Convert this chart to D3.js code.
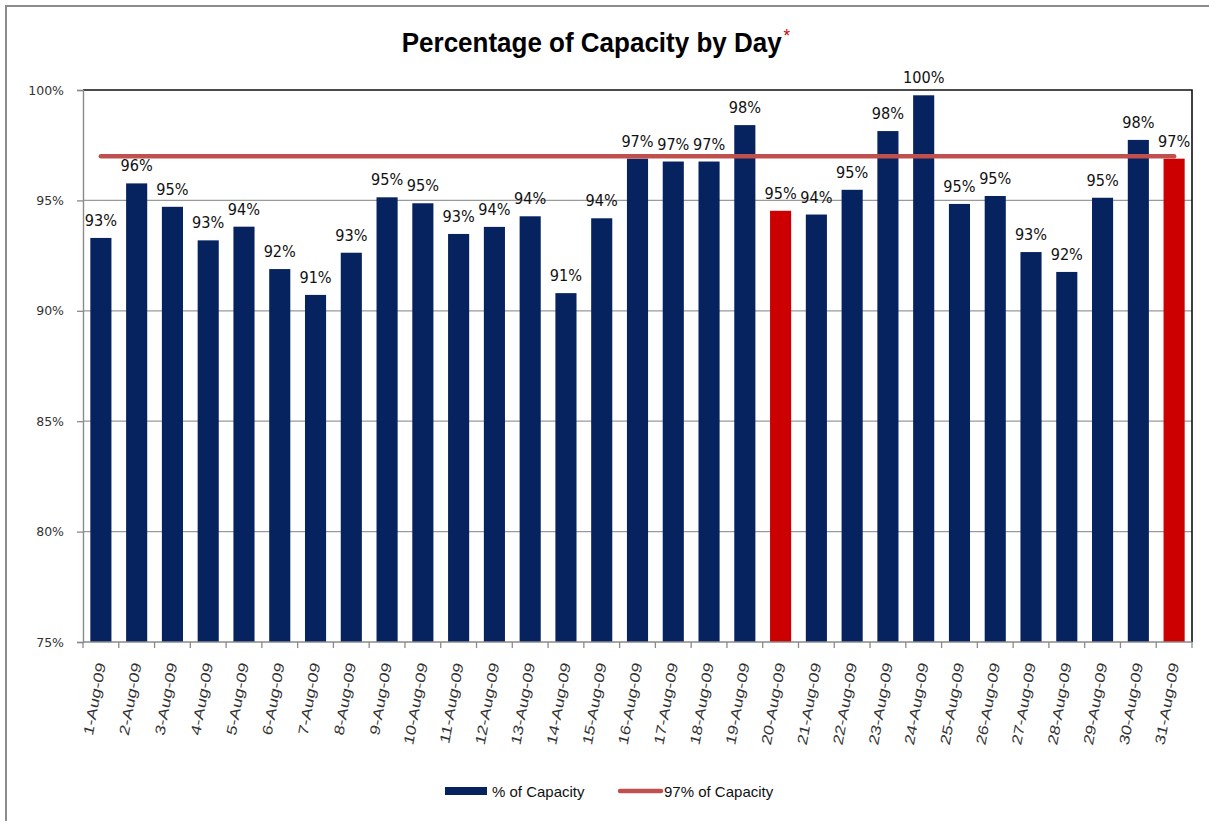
<!DOCTYPE html>
<html>
<head>
<meta charset="utf-8">
<script src="https://cdn.jsdelivr.net/npm/d3@7"></script>
<style>
  html, body { margin: 0; padding: 0; background: #fff; }
  svg { display: block; font-family: "Liberation Sans", Arial, sans-serif; }
</style>
</head>
<body>
<div id="chart"></div>
<script>
// chart data
const days = [
  '1-Aug-09', '2-Aug-09', '3-Aug-09', '4-Aug-09', '5-Aug-09', '6-Aug-09', '7-Aug-09', '8-Aug-09',
  '9-Aug-09', '10-Aug-09', '11-Aug-09', '12-Aug-09', '13-Aug-09', '14-Aug-09', '15-Aug-09', '16-Aug-09',
  '17-Aug-09', '18-Aug-09', '19-Aug-09', '20-Aug-09', '21-Aug-09', '22-Aug-09', '23-Aug-09', '24-Aug-09',
  '25-Aug-09', '26-Aug-09', '27-Aug-09', '28-Aug-09', '29-Aug-09', '30-Aug-09', '31-Aug-09'
];
const capacity = [
  93.3, 95.77, 94.71, 93.19, 93.81, 91.89, 90.72, 92.63,
  95.14, 94.87, 93.48, 93.8, 94.28, 90.8, 94.19, 96.89,
  96.76, 96.76, 98.41, 94.53, 94.36, 95.48, 98.14, 99.76,
  94.84, 95.2, 92.66, 91.76, 95.12, 97.74, 96.89
];
const highlightDays = ['20-Aug-09', '31-Aug-09'];
const targetLevel = 97;
const yTicks = [75, 80, 85, 90, 95, 100];
const seriesNames = ['% of Capacity', '97% of Capacity'];

const width = 1209, height = 821;
const plot = { left: 83, right: 1192, top: 90, bottom: 642 };

const navy = '#06225f';
const red = '#cc0000';
const lineRed = '#c0504d';

const svg = d3.select('#chart')
  .append('svg')
  .attr('width', width)
  .attr('height', height);

// outer frame (runs off the right and bottom)
svg.append('rect')
  .attr('x', 6).attr('y', 6)
  .attr('width', 1220).attr('height', 830)
  .attr('fill', 'none')
  .attr('stroke', '#8c8c8c')
  .attr('stroke-width', 2);

// title
const title = svg.append('text')
  .attr('transform', 'translate(596,52) scale(1,1.08)')
  .attr('text-anchor', 'middle')
  .attr('font-size', 26)
  .attr('font-weight', 'bold')
  .attr('fill', '#000');
title.append('tspan').text('Percentage of Capacity by Day');
title.append('tspan')
  .attr('fill', red)
  .attr('font-size', 17)
  .attr('font-weight', 'normal')
  .attr('dx', 2)
  .attr('dy', -9)
  .text('*');

// scales
const x = d3.scaleBand()
  .domain(days)
  .range([plot.left, plot.right])
  .paddingInner(0.41)
  .paddingOuter(0.205);

const y = d3.scaleLinear()
  .domain([75, 100])
  .range([plot.bottom, plot.top]);

const step = x.step();

// gridlines
svg.append('g')
  .selectAll('line')
  .data(yTicks.filter(t => t > 75 && t < 100))
  .join('line')
  .attr('x1', plot.left).attr('x2', plot.right)
  .attr('y1', d => y(d)).attr('y2', d => y(d))
  .attr('stroke', '#9a9a9a')
  .attr('stroke-width', 1.3);

// plot border top and right
svg.append('path')
  .attr('d', `M${plot.left},${y(100)}H${plot.right}V${plot.bottom}`)
  .attr('fill', 'none')
  .attr('stroke', '#111')
  .attr('stroke-width', 1.6);

// y axis
const yAxis = svg.append('g')
  .attr('transform', `translate(${plot.left},0)`)
  .call(d3.axisLeft(y).tickValues(yTicks).tickFormat(d => d + '%').tickSize(6).tickPadding(13));
yAxis.select('.domain').attr('stroke', '#8a8a8a').attr('stroke-width', 1.4);
yAxis.selectAll('.tick line').attr('stroke', '#8a8a8a').attr('stroke-width', 1.3);
yAxis.selectAll('.tick text')
  .attr('font-family', '"DejaVu Sans", Verdana, sans-serif')
  .attr('font-size', 12.5)
  .attr('fill', '#333');

// bars
svg.append('g')
  .selectAll('rect')
  .data(days)
  .join('rect')
  .attr('x', d => x(d))
  .attr('y', (d, i) => y(capacity[i]))
  .attr('width', x.bandwidth())
  .attr('height', (d, i) => y(75) - y(capacity[i]))
  .attr('fill', d => highlightDays.includes(d) ? red : navy);

// x axis line and ticks at band boundaries
svg.append('line')
  .attr('x1', plot.left).attr('x2', plot.right)
  .attr('y1', plot.bottom).attr('y2', plot.bottom)
  .attr('stroke', '#8a8a8a')
  .attr('stroke-width', 1.4);

svg.append('g')
  .selectAll('line')
  .data(days.concat(['end']))
  .join('line')
  .attr('x1', (d, i) => i < days.length ? x(d) - step * x.paddingInner() / 2 : plot.right)
  .attr('x2', (d, i) => i < days.length ? x(d) - step * x.paddingInner() / 2 : plot.right)
  .attr('y1', plot.bottom)
  .attr('y2', plot.bottom + 6)
  .attr('stroke', '#8a8a8a')
  .attr('stroke-width', 1.3);

// x labels - stretched vertically after rotation, like the source image
svg.append('g')
  .selectAll('text')
  .data(days)
  .join('text')
  .attr('transform', d => `translate(${x(d) + x.bandwidth() / 2},${plot.bottom + 21}) scale(1,1.28) rotate(-77)`)
  .attr('text-anchor', 'end')
  .attr('dy', '0.35em')
  .attr('font-size', 14)
  .attr('fill', '#333')
  .text(d => d);

// 97% line
const line = d3.line()
  .x(d => x(d) + x.bandwidth() / 2)
  .y(() => y(targetLevel));
svg.append('path')
  .datum([days[0], days[days.length - 1]])
  .attr('d', line)
  .attr('fill', 'none')
  .attr('stroke', lineRed)
  .attr('stroke-width', 4.5)
  .attr('stroke-linecap', 'round');

// data labels
svg.append('g')
  .selectAll('text')
  .data(days)
  .join('text')
  .attr('transform', (d, i) => `translate(${x(d) + x.bandwidth() / 2},${y(capacity[i]) - 12}) scale(1,1.1)`)
  .attr('text-anchor', 'middle')
  .attr('font-family', '"DejaVu Sans", Verdana, sans-serif')
  .attr('font-size', 14.5)
  .attr('fill', '#111')
  .text((d, i) => Math.round(capacity[i]) + '%');

// legend
const legend = svg.append('g');
legend.append('rect')
  .attr('x', 445).attr('y', 787)
  .attr('width', 42).attr('height', 8)
  .attr('fill', navy);
legend.append('text')
  .attr('x', 492).attr('y', 797)
  .attr('font-size', 15)
  .attr('fill', '#111')
  .text(seriesNames[0]);
legend.append('line')
  .attr('x1', 620).attr('x2', 661)
  .attr('y1', 791).attr('y2', 791)
  .attr('stroke', lineRed)
  .attr('stroke-width', 4.5)
  .attr('stroke-linecap', 'round');
legend.append('text')
  .attr('x', 664).attr('y', 797)
  .attr('font-size', 15)
  .attr('fill', '#111')
  .text(seriesNames[1]);
</script>
</body>
</html>
